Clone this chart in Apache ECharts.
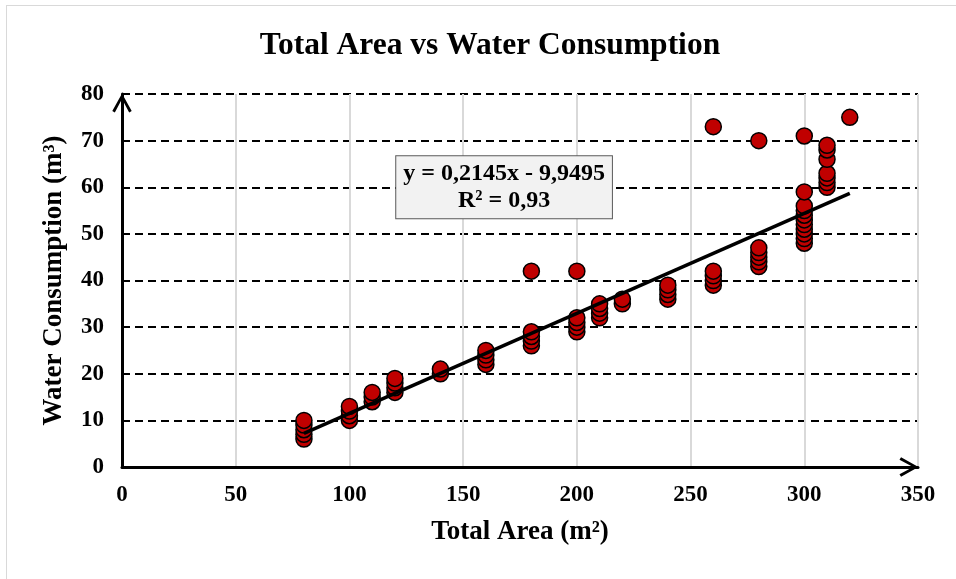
<!DOCTYPE html>
<html>
<head>
<meta charset="utf-8">
<script src="https://cdn.jsdelivr.net/npm/echarts@6/dist/echarts.min.js"></script>
<style>
  html, body { margin: 0; padding: 0; background: #ffffff; }
  #frame { position: absolute; left: 6px; top: 5px; width: 1000px; height: 1000px;
           border-top: 1px solid #d9d9d9; border-left: 1px solid #d9d9d9; }
  #chart { position: absolute; left: 0; top: 0; width: 956px; height: 579px; }
</style>
</head>
<body>
<div id="frame"></div>
<div id="chart"></div>
<script>
// ---- data ----
const totalArea = [
  80, 80, 80, 80, 80,
  100, 100, 100, 100,
  110, 110, 110,
  120, 120, 120, 120,
  140, 140,
  160, 160, 160, 160,
  180, 180, 180, 180, 180,
  200, 200, 200, 200, 200,
  210, 210, 210, 210,
  220, 220,
  240, 240, 240, 240,
  260, 260, 260, 260, 260,
  280, 280, 280, 280, 280, 280,
  300, 300, 300, 300, 300, 300, 300, 300, 300, 300, 300,
  310, 310, 310, 310, 310, 310, 310,
  320
];
const waterConsumption = [
  6, 7, 8, 9, 10,
  10, 11, 12, 13,
  14, 15, 16,
  16, 17, 18, 19,
  20, 21,
  22, 23, 24, 25,
  26, 27, 28, 29, 42,
  29, 30, 31, 32, 42,
  32, 33, 34, 35,
  35, 36,
  36, 37, 38, 39,
  39, 40, 41, 42, 73,
  43, 44, 45, 46, 47, 70,
  48, 49, 50, 51, 52, 53, 54, 55, 56, 59, 71,
  60, 61, 62, 63, 66, 68, 69,
  75
];
// trendline as displayed in the chart
const trendSlope = 0.2145;
const trendIntercept = -9.9495;
const trendRange = [80, 320];
const equationText = ['y = 0,2145x - 9,9495', 'R² = 0,93'];
const equationAnchor = [168, 60];
const xTicks = [0, 350, 50];   // min, max, interval
const yTicks = [0, 80, 10];

const chartTitle = 'Total Area vs Water Consumption';
const xName = 'Total Area (m²)';
const yName = 'Water Consumption (m³)';

// ---- build ----
const points = totalArea.map((x, i) => [x, waterConsumption[i]]);
const trendPoints = trendRange.map(x => [x, trendSlope * x + trendIntercept]);

const FONT = '"Liberation Serif", "DejaVu Serif", serif';
const chevron = 'path://M0,18 L10,0 L20,18 L17.4,19.6 L10,5.6 L2.6,19.6 Z';

const chart = echarts.init(document.getElementById('chart'), null, { renderer: 'canvas' });
chart.setOption({
  animation: false,
  backgroundColor: 'transparent',
  title: {
    text: chartTitle,
    left: 485, top: 25, textAlign: 'center',
    textStyle: { fontFamily: FONT, fontWeight: 'bold', fontSize: 31.5, color: '#000' }
  },
  grid: { left: 122, right: 38, top: 94, bottom: 112, containLabel: false },
  xAxis: {
    type: 'value', min: xTicks[0], max: xTicks[1], interval: xTicks[2],
    name: xName, nameLocation: 'middle', nameGap: 52,
    nameTextStyle: { fontFamily: FONT, fontWeight: 'bold', fontSize: 27, color: '#000' },
    axisLine: { show: true, onZero: false, lineStyle: { color: '#000', width: 3 },
                symbol: ['none', chevron], symbolSize: [20, 19], symbolOffset: [0, -9] },
    axisTick: { show: false },
    axisLabel: { margin: 17, fontFamily: FONT, fontWeight: 'bold', fontSize: 23, color: '#000' },
    splitLine: { show: true, lineStyle: { color: '#d9d9d9', width: 2, type: 'solid' } }
  },
  yAxis: {
    type: 'value', min: yTicks[0], max: yTicks[1], interval: yTicks[2],
    name: yName, nameLocation: 'middle', nameGap: 54,
    nameTextStyle: { fontFamily: FONT, fontWeight: 'bold', fontSize: 27, color: '#000' },
    axisLine: { show: true, onZero: false, lineStyle: { color: '#000', width: 3 },
                symbol: ['none', chevron], symbolSize: [20, 19], symbolOffset: [0, -9] },
    axisTick: { show: false },
    axisLabel: { margin: 18, fontFamily: FONT, fontWeight: 'bold', fontSize: 23, color: '#000' },
    splitLine: { show: true, lineStyle: { color: '#000', width: 2, type: [8, 5] } }
  },
  series: [
    {
      type: 'scatter', data: points, symbol: 'circle', symbolSize: 16, z: 3,
      itemStyle: { color: '#c00000', opacity: 1, borderColor: '#000', borderWidth: 1.5 }
    },
    {
      type: 'line', data: trendPoints, symbol: 'none', z: 4, silent: true,
      lineStyle: { color: '#000', width: 3.5 },
      markPoint: {
        symbol: 'rect', symbolSize: 1,
        itemStyle: { color: 'transparent' },
        data: [{ coord: equationAnchor }],
        label: {
          show: true, position: 'inside',
          formatter: equationText.join('\n'),
          align: 'center', verticalAlign: 'middle',
          fontFamily: FONT, fontWeight: 'bold', fontSize: 24, color: '#000',
          lineHeight: 27,
          backgroundColor: '#f2f2f2', borderColor: '#595959', borderWidth: 1,
          padding: [5, 7, 3, 7]
        }
      }
    }
  ]
});
</script>
</body>
</html>
